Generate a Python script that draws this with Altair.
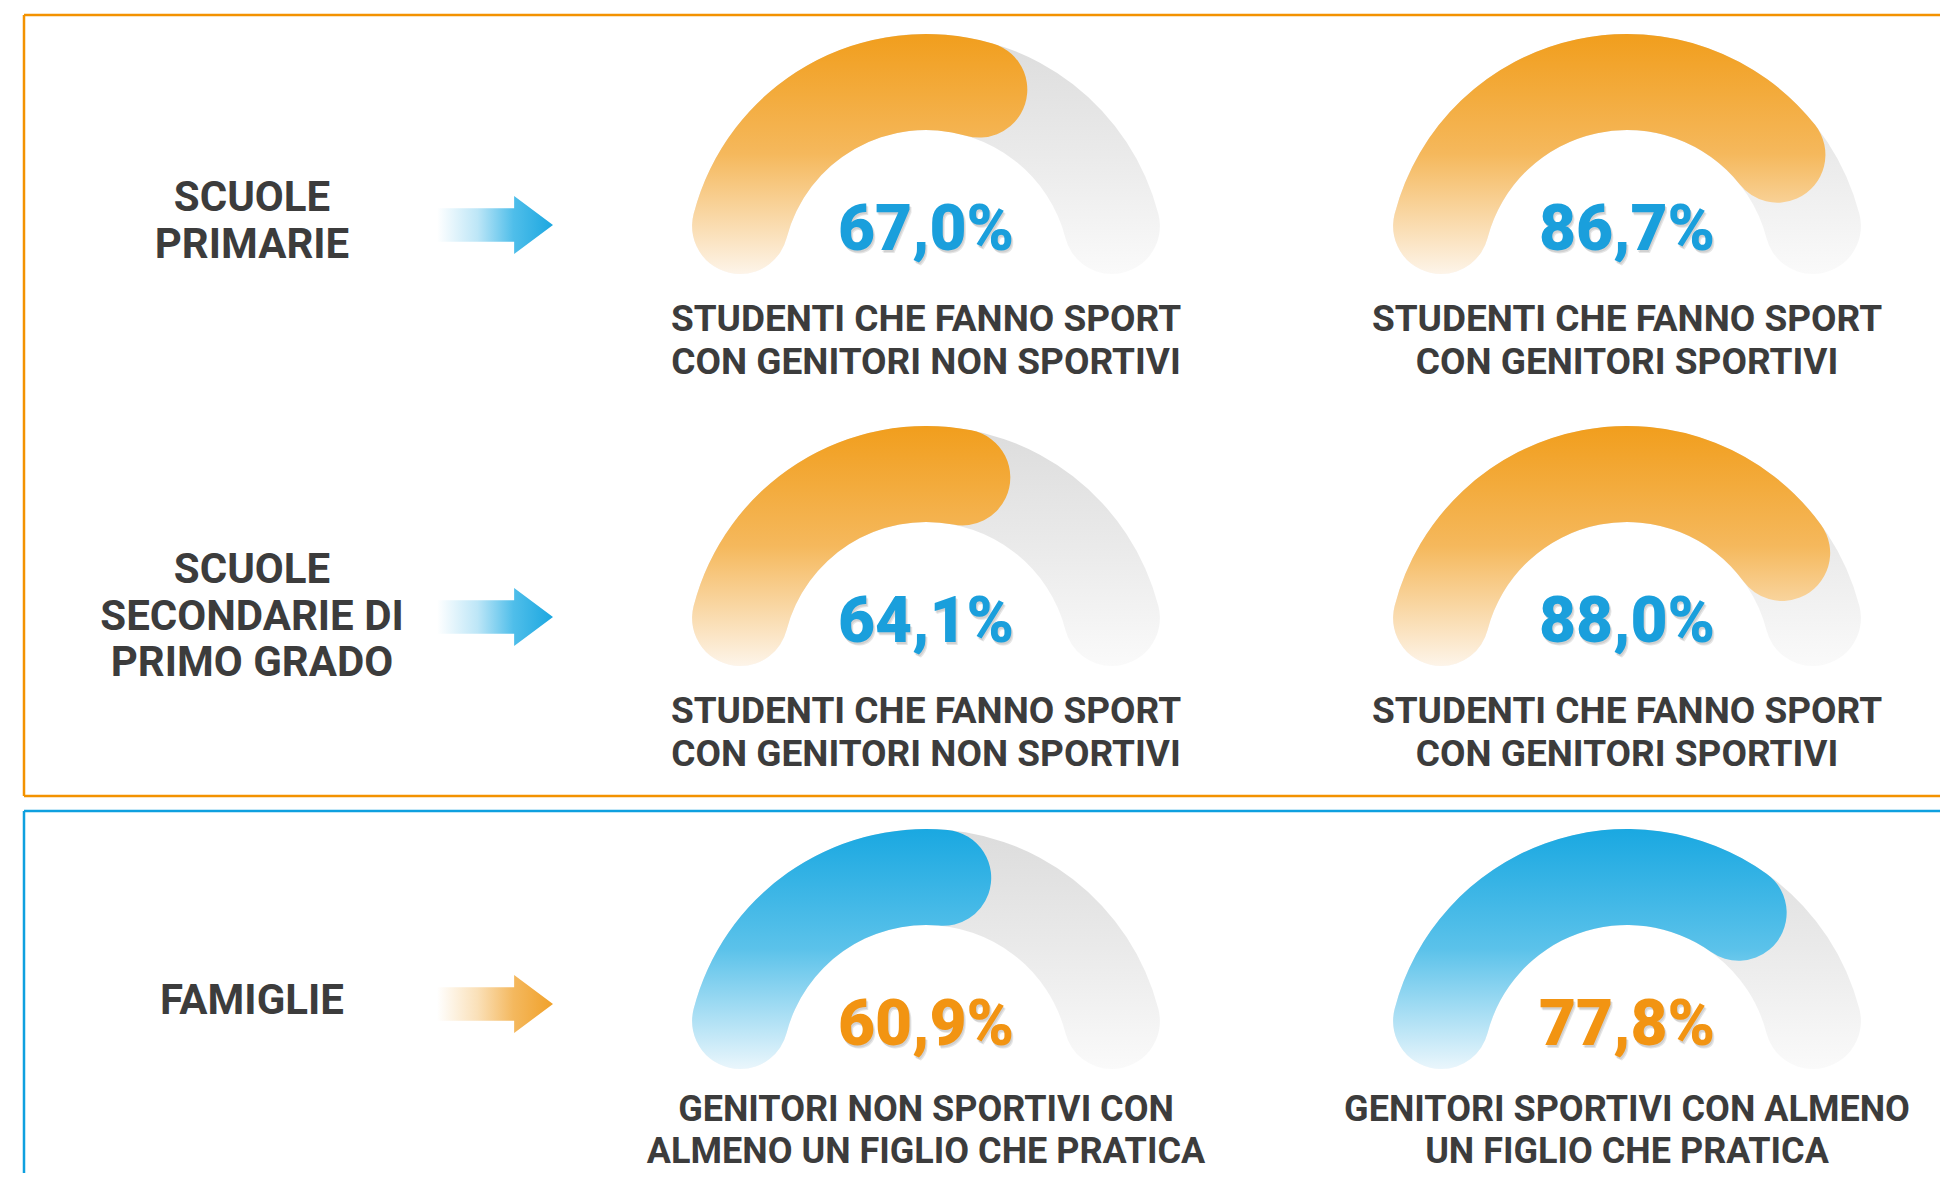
import math
import altair as alt
import pandas as pd

# ---------------- data ----------------
row_names = [["SCUOLE", "PRIMARIE"],
             ["SCUOLE", "SECONDARIE DI", "PRIMO GRADO"],
             ["FAMIGLIE"]]
row_theme = ["blue", "blue", "orange"]          # arrow colour of each row

gauge_values = [67.0, 86.7, 64.1, 88.0, 60.9, 77.8]
gauge_text = ["67,0%", "86,7%", "64,1%", "88,0%", "60,9%", "77,8%"]
gauge_caption = [
    ["STUDENTI CHE FANNO SPORT", "CON GENITORI NON SPORTIVI"],
    ["STUDENTI CHE FANNO SPORT", "CON GENITORI SPORTIVI"],
    ["STUDENTI CHE FANNO SPORT", "CON GENITORI NON SPORTIVI"],
    ["STUDENTI CHE FANNO SPORT", "CON GENITORI SPORTIVI"],
    ["GENITORI NON SPORTIVI CON", "ALMENO UN FIGLIO CHE PRATICA"],
    ["GENITORI SPORTIVI CON ALMENO", "UN FIGLIO CHE PRATICA"],
]
gauge_row = [0, 0, 1, 1, 2, 2]
gauge_col = [0, 1, 0, 1, 0, 1]
gauge_theme = ["orange", "orange", "orange", "orange", "blue", "blue"]
gauge_max = 100

# ---------------- layout (reference pixel space) ----------------
W, H = 1932, 1165
COL_X = [926, 1627]
ROW_CY = [274, 666, 1069]
ROW_LABEL_Y = [219, 614, 998]     # visual centre of left label block
ARROW_X = 495
ARROW_Y = [225, 617, 1004]
R_OUT, R_IN = 240, 144
PCT_DY = -24
CAP_DY = [[57, 100], [57, 100], [52, 94]]   # caption baselines below gauge centre
CAP_SIZE = [37, 37, 36]
LEFT_LH = 46.5
LEFT_X = 252

# box borders: (x, x2, y, y2, colour) – top, left, bottom segments
SEGMENTS = [
    (24, 1990, 15, 15, "#F39200"),
    (24, 24, 15, 796, "#F39200"),
    (24, 1990, 796, 796, "#F39200"),
    (24, 1990, 811, 811, "#0EA0DF"),
    (24, 24, 811, 1260, "#0EA0DF"),
]

FONT = "Roboto"
DARK = "#3C3C3C"

xs = alt.Scale(domain=[8, 8 + W], nice=False, zero=False)
ys = alt.Scale(domain=[8, 8 + H], nice=False, zero=False, reverse=True)
X = alt.X("px:Q", scale=xs, axis=None)
Y = alt.Y("py:Q", scale=ys, axis=None)
thscale = alt.Scale(domain=[0, gauge_max], range=[-math.pi / 2, math.pi / 2])


def vgrad(c0, cm, c1):
    return alt.LinearGradient(
        gradient="linear",
        stops=[alt.GradientStop(color=c0, offset=0),
               alt.GradientStop(color=cm, offset=0.5),
               alt.GradientStop(color=c1, offset=1)],
        x1=0, x2=0, y1=0, y2=1)


def hgrad(stops):
    return alt.LinearGradient(
        gradient="linear",
        stops=[alt.GradientStop(color=c, offset=o) for o, c in stops],
        x1=0, x2=1, y1=0, y2=0)


GRAD = {
    "orange": vgrad("#F19E1D", "#F5B85C", "#FDF4E9"),
    "blue": vgrad("#1AA8E1", "#5BC2EA", "#EAF6FC"),
    "grey": vgrad("#DCDCDC", "#EAEAEA", "#FAFAFA"),
}
ARROW_GRAD = {
    "blue": hgrad([(0, "#FFFFFF"), (0.35, "#BDE6F7"), (0.66, "#4FBEEA"), (1, "#1CA7E0")]),
    "orange": hgrad([(0, "#FFFFFF"), (0.35, "#FAE0B8"), (0.66, "#F4B85E"), (1, "#F0A12A")]),
}
TEXT_COLOR = {"orange": "#1A9FDC", "blue": "#F29412"}

# ---------------- tables ----------------
g = pd.DataFrame({
    "px": [COL_X[c] for c in gauge_col],
    "py": [ROW_CY[r] for r in gauge_row],
    "value": gauge_values,
    "start": [0] * len(gauge_values),
    "full": [gauge_max] * len(gauge_values),
    "label": gauge_text,
    "theme": gauge_theme,
})
g["ty"] = g["py"] + PCT_DY

cap_rows = []
for i, lines in enumerate(gauge_caption):
    r = gauge_row[i]
    for j, line in enumerate(lines):
        cap_rows.append(dict(px=COL_X[gauge_col[i]],
                             py=ROW_CY[r] + CAP_DY[r][j], t=line, fs=CAP_SIZE[r]))
caps = pd.DataFrame(cap_rows)

left_rows = []
for r, lines in enumerate(row_names):
    n = len(lines)
    for j, line in enumerate(lines):
        left_rows.append(dict(px=LEFT_X,
                              py=ROW_LABEL_Y[r] + (j - (n - 1) / 2) * LEFT_LH + 15.5,
                              t=line))
left = pd.DataFrame(left_rows)

arrows = pd.DataFrame({"px": [ARROW_X] * 3, "py": ARROW_Y, "theme": row_theme})
segs = pd.DataFrame(SEGMENTS, columns=["px", "px2", "py", "py2", "c"])

ARROW_PATH = "M-1,-0.29 L0.33,-0.29 L0.33,-0.5 L1,0 L0.33,0.5 L0.33,0.29 L-1,0.29 Z"

layers = []

# box borders
layers.append(
    alt.Chart(segs).mark_rule(strokeWidth=2.5)
    .encode(x=X, x2="px2:Q", y=Y, y2="py2:Q",
            color=alt.Color("c:N", scale=None, legend=None)))

# grey tracks
layers.append(
    alt.Chart(g).mark_arc(radius=R_OUT, radius2=R_IN, cornerRadius=(R_OUT - R_IN) / 2,
                          color=GRAD["grey"])
    .encode(x=X, y=Y,
            theta=alt.Theta("start:Q", scale=thscale, stack=False),
            theta2="full:Q"))

# coloured value arcs
for th in ["orange", "blue"]:
    layers.append(
        alt.Chart(g[g.theme == th]).mark_arc(radius=R_OUT, radius2=R_IN,
                                             cornerRadius=(R_OUT - R_IN) / 2,
                                             color=GRAD[th])
        .encode(x=X, y=Y,
                theta=alt.Theta("start:Q", scale=thscale, stack=False),
                theta2="value:Q"))

# percentage shadow + text
for dx, dy, op in [(2, 3, 0.18), (1, 2, 0.18)]:
    layers.append(
        alt.Chart(g).mark_text(font=FONT, fontWeight=900, fontSize=64, color="#777777",
                               opacity=op, dx=dx, dy=dy, baseline="alphabetic",
                               align="center")
        .encode(x=X, y=alt.Y("ty:Q", scale=ys, axis=None), text="label:N"))
for th in ["orange", "blue"]:
    layers.append(
        alt.Chart(g[g.theme == th]).mark_text(font=FONT, fontWeight=900, fontSize=64,
                                              color=TEXT_COLOR[th],
                                              baseline="alphabetic", align="center")
        .encode(x=X, y=alt.Y("ty:Q", scale=ys, axis=None), text="label:N"))

# captions
layers.append(
    alt.Chart(caps).mark_text(font=FONT, fontWeight="bold", color=DARK,
                              baseline="alphabetic", align="center")
    .encode(x=X, y=Y, text="t:N",
            size=alt.Size("fs:Q", scale=None, legend=None)))

# left labels
layers.append(
    alt.Chart(left).mark_text(font=FONT, fontWeight="bold", fontSize=42, color=DARK,
                              baseline="alphabetic", align="center")
    .encode(x=X, y=Y, text="t:N"))

# arrows
for th in ["blue", "orange"]:
    layers.append(
        alt.Chart(arrows[arrows.theme == th]).mark_point(
            shape=ARROW_PATH, size=116 * 116, filled=True, color=ARROW_GRAD[th],
            opacity=1, strokeWidth=0)
        .encode(x=X, y=Y))

chart = alt.layer(*layers).properties(
    width=W, height=H,
    autosize=alt.AutoSizeParams(type="none"),
    padding=0,
    background="white",
).configure_view(stroke="transparent")

chart.save("out.html", embed_options={"renderer": "svg", "actions": False})
